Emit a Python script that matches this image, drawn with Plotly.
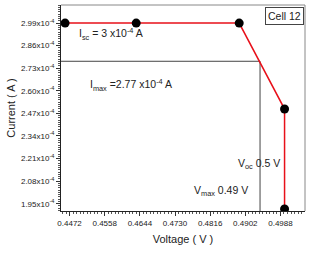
import plotly.graph_objects as go

voltage = [0.4461, 0.4635, 0.4887, 0.4998, 0.4998]
current = [2.99e-4, 2.99e-4, 2.99e-4, 2.495e-4, 1.92e-4]

i_max = 2.77e-4
v_max_line = 0.4938

y_tick_vals = [1.95e-4, 2.08e-4, 2.21e-4, 2.34e-4, 2.47e-4, 2.60e-4, 2.73e-4, 2.86e-4, 2.99e-4]
y_tick_text = ["1.95x10<sup>-4</sup>", "2.08x10<sup>-4</sup>", "2.21x10<sup>-4</sup>", "2.34x10<sup>-4</sup>",
               "2.47x10<sup>-4</sup>", "2.60x10<sup>-4</sup>", "2.73x10<sup>-4</sup>", "2.86x10<sup>-4</sup>",
               "2.99x10<sup>-4</sup>"]
x_tick_vals = [0.4472, 0.4558, 0.4644, 0.4730, 0.4816, 0.4902, 0.4988]
x_tick_text = ["0.4472", "0.4558", "0.4644", "0.4730", "0.4816", "0.4902", "0.4988"]

x_range = [0.4451, 0.5048]
y_range = [1.908e-4, 3.094e-4]

FONT = "Liberation Sans, Arial, sans-serif"

fig = go.Figure()
fig.add_trace(go.Scatter(x=[x_range[0], v_max_line, v_max_line], y=[i_max, i_max, y_range[0]],
                         mode="lines", line=dict(color="#444444", width=1), showlegend=False, hoverinfo="skip"))
fig.add_trace(go.Scatter(x=voltage, y=current, mode="lines+markers",
                         line=dict(color="#e8101a", width=1.5),
                         marker=dict(color="black", size=9), showlegend=False))

fig.update_layout(
    width=310, height=255,
    margin=dict(l=61, r=5, t=5, b=44),
    plot_bgcolor="white", paper_bgcolor="white",
    font=dict(family=FONT, color="#222222"),
    xaxis=dict(range=x_range, tickvals=x_tick_vals, ticktext=x_tick_text,
               ticks="outside", ticklen=4, tickcolor="#333", tickfont=dict(size=8),
               showgrid=False, zeroline=False, showline=True, linecolor="#222", linewidth=1,
               title=dict(text="Voltage ( V )", font=dict(size=11), standoff=8),
               minor=dict(ticks="outside", ticklen=2, dtick=0.00086, tick0=0.4472, tickcolor="#555", showgrid=False)),
    yaxis=dict(range=y_range, tickvals=y_tick_vals, ticktext=y_tick_text,
               ticks="outside", ticklen=4, tickcolor="#333", tickfont=dict(size=8),
               showgrid=False, zeroline=False, showline=True, linecolor="#222", linewidth=1,
               title=dict(text="Current ( A )", font=dict(size=11), standoff=3),
               minor=dict(ticks="outside", ticklen=2, dtick=0.013e-4, tick0=1.95e-4, tickcolor="#555", showgrid=False)),
    shapes=[
        dict(type="line", xref="paper", yref="paper", x0=0, x1=1, y0=1, y1=1, line=dict(color="#888", width=1)),
        dict(type="line", xref="paper", yref="paper", x0=1, x1=1, y0=0, y1=1, line=dict(color="#888", width=1)),
    ],
)

def px(x):
    return (x - 61) / 244.0

def py(y):
    return (211 - y) / 206.0

ann = dict(xref="paper", yref="paper", showarrow=False)
fig.add_annotation(x=px(77), y=py(34), xanchor="left", yanchor="middle",
                   text="I<sub>sc</sub> = 3 x10<sup>-4</sup> A", font=dict(size=10.5, color="#222"), **ann)
fig.add_annotation(x=px(88), y=py(85), xanchor="left", yanchor="middle",
                   text="I<sub>max</sub> =2.77 x10<sup>-4</sup> A", font=dict(size=10.5, color="#222"), **ann)
fig.add_annotation(x=px(282), y=py(164), xanchor="right", yanchor="middle",
                   text="V<sub>oc</sub> 0.5 V", font=dict(size=10.5, color="#222"), **ann)
fig.add_annotation(x=px(250), y=py(191), xanchor="right", yanchor="middle",
                   text="V<sub>max</sub> 0.49 V", font=dict(size=10.5, color="#222"), **ann)
fig.add_annotation(x=px(304), y=py(7), xanchor="right", yanchor="top",
                   text="Cell 12", bordercolor="#444", borderwidth=1, borderpad=2,
                   bgcolor="white", font=dict(size=10.5, color="#222"), **ann)

fig.write_html("out.html")
